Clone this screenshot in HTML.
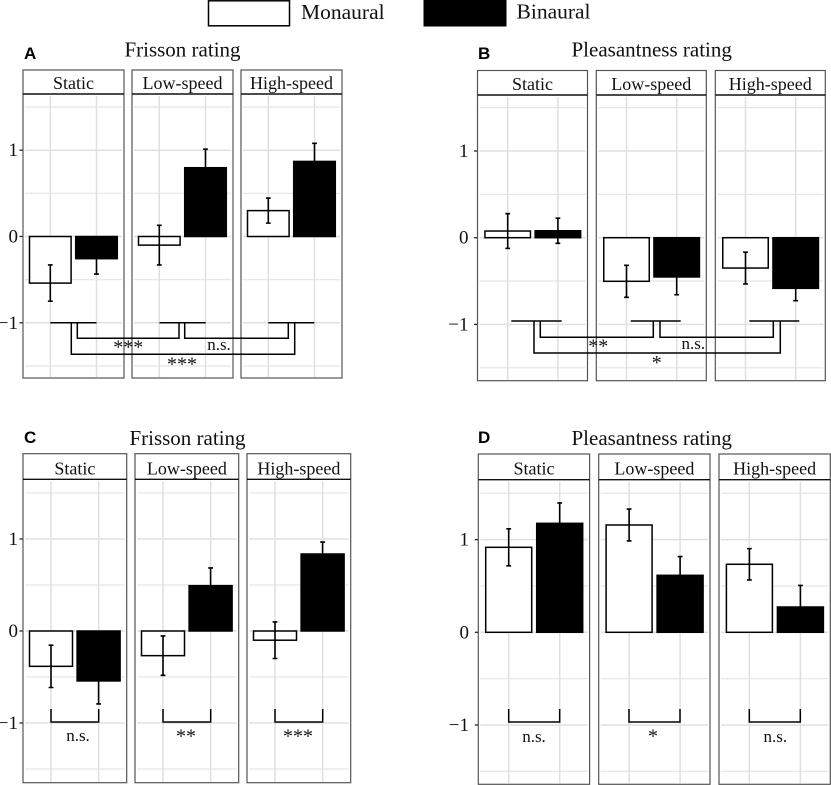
<!DOCTYPE html>
<html>
<head>
<meta charset="utf-8">
<title>Frisson and pleasantness ratings</title>
<style>
html,body{margin:0;padding:0;background:#fff;width:831px;height:785px;overflow:hidden}
svg{display:block}
text{font-family:"Liberation Serif",serif;fill:#111}
.lbl{font-family:"Liberation Sans",sans-serif;font-weight:bold;font-size:17px;fill:#000}
.title{font-size:21px;text-anchor:middle}
.strip{font-size:18px;text-anchor:middle}
.tick{font-size:19px;text-anchor:end}
.note{font-size:17px;text-anchor:middle}
.star{font-size:20px;text-anchor:middle}
.br{fill:none;stroke:#000;stroke-width:1.5}
</style>
</head>
<body>
<svg id="figure" width="831" height="785" viewBox="0 0 831 785" xmlns="http://www.w3.org/2000/svg">
  <g>
    <rect x="208.5" y="0.8" width="81" height="25" fill="#fff" stroke="#000" stroke-width="1.5"/>
    <text x="301" y="19" font-size="21.5">Monaural</text>
    <rect x="423.5" y="0" width="83" height="26.5" fill="#000"/>
    <text x="516.5" y="18.5" font-size="21.5">Binaural</text>
  </g>
  <text class="lbl" x="24" y="59">A</text>
  <text class="lbl" x="478" y="59">B</text>
  <text class="lbl" x="24" y="443">C</text>
  <text class="lbl" x="478" y="443">D</text>
  <text class="title" x="182.5" y="56.5">Frisson rating</text>
  <text class="title" x="651.7" y="56.5">Pleasantness rating</text>
  <text class="title" x="187.5" y="445">Frisson rating</text>
  <text class="title" x="651.7" y="445">Pleasantness rating</text>
  <g id="panels"></g>
  <g>
    <g>
      <path class="br" d="M50.3 322.7H96.5M159.5 322.7H205.7M268.3 322.7H314.3"/>
      <path class="br" d="M77.3 322.7V338.3H179V322.7"/>
      <path class="br" d="M184.7 322.7V338.3H288.3V322.7"/>
      <path class="br" d="M71.3 322.7V354.3H294.7V322.7"/>
      <text class="star" x="128.3" y="353.5">***</text>
      <text class="note" x="219" y="350">n.s.</text>
      <text class="star" x="182" y="370.5">***</text>
    </g>
    <g>
      <path class="br" d="M511.3 321H561.7M630.7 321H680.7M749.3 321H799.3"/>
      <path class="br" d="M540.3 321V337.3H653.3V321"/>
      <path class="br" d="M660 321V337.3H773.3V321"/>
      <path class="br" d="M534 321V353H780.3V321"/>
      <text class="star" x="598.3" y="352.5">**</text>
      <text class="note" x="693.3" y="349">n.s.</text>
      <text class="star" x="656.7" y="369">*</text>
    </g>
    <g>
      <path class="br" d="M51 709V722H98.7V709"/>
      <path class="br" d="M163 709V722H210.7V709"/>
      <path class="br" d="M275 709V722H322.7V709"/>
      <text class="note" x="78" y="741">n.s.</text>
      <text class="star" x="186" y="742.5">**</text>
      <text class="star" x="298" y="742.5">***</text>
    </g>
    <g>
      <path class="br" d="M508.7 709V722H559.7V709"/>
      <path class="br" d="M629 709V722H680V709"/>
      <path class="br" d="M749.3 709V722H800.3V709"/>
      <text class="note" x="534" y="742">n.s.</text>
      <text class="star" x="653" y="742.5">*</text>
      <text class="note" x="775.3" y="742">n.s.</text>
    </g>
  </g>
</svg>
<script>
// Chart data
const categories = ['Static', 'Low-speed', 'High-speed'];
const yTicks = [-1, 0, 1];
const yTickLabels = ['\u22121', '0', '1'];
const yMinor = [-1.5, -0.5, 0.5, 1.5];

const monoA = [-0.54, -0.10, 0.30];
const monoErrA = [0.21, 0.23, 0.145];
const binA = [-0.257, 0.797, 0.87];
const binErrA = [0.178, 0.215, 0.21];

const monoB = [0.077, -0.503, -0.35];
const monoErrB = [0.20, 0.185, 0.183];
const binB = [0.08, -0.453, -0.584];
const binErrB = [0.145, 0.205, 0.143];

const monoC = [-0.384, -0.268, -0.10];
const monoErrC = [0.23, 0.214, 0.199];
const binC = [-0.543, 0.493, 0.837];
const binErrC = [0.25, 0.192, 0.13];

const monoD = [0.917, 1.158, 0.734];
const monoErrD = [0.20, 0.172, 0.169];
const binD = [1.176, 0.615, 0.273];
const binErrD = [0.22, 0.202, 0.233];

// Layout of each panel (not data)
const layouts = [
  {id:'a', mono:monoA, monoErr:monoErrA, bin:binA, binErr:binErrA, lefts:[23,132,241], w:101, top:70, strip:94, bottom:378, y0:236.5, unit:86.3, tickEnd:18, step:46.2, off:27.3, bw:41.6},
  {id:'b', mono:monoB, monoErr:monoErrB, bin:binB, binErr:binErrB, lefts:[477.5,596.3,715.3], w:110, top:70.5, strip:95, bottom:380.7, y0:237.7, unit:86.7, tickEnd:468.5, step:50.2, off:30.2, bw:45.5},
  {id:'c', mono:monoC, monoErr:monoErrC, bin:binC, binErr:binErrC, lefts:[23,135,247], w:103.7, top:453.7, strip:479.3, bottom:782.7, y0:631, unit:92, tickEnd:18, step:47.6, off:28, bw:43},
  {id:'d', mono:monoD, monoErr:monoErrD, bin:binD, binErr:binErrD, lefts:[478.3,598.7,719], w:111.3, top:454, strip:479.7, bottom:784.3, y0:632.3, unit:92.67, tickEnd:469, step:51, off:30.4, bw:46}
];

const NS = 'http://www.w3.org/2000/svg';
function add(parent, tag, attrs, txt) {
  const el = document.createElementNS(NS, tag);
  for (const k in attrs) el.setAttribute(k, attrs[k]);
  if (txt !== undefined) el.textContent = txt;
  parent.appendChild(el);
  return el;
}

const root = document.getElementById('panels');
layouts.forEach(function (p) {
  const yScale = function (v) { return p.y0 - v * p.unit; };
  const xScale = function (facet, pos) { return p.lefts[facet] + p.off + pos * p.step; };
  const g = add(root, 'g', {});
  
  

  yTicks.forEach(function (t, i) {
    const label = add(g, 'text', {class:'tick', x:p.tickEnd, y:yScale(t) + 6}, yTickLabels[i]);
    
    
    const mark = add(g, 'line', {x1:p.lefts[0] - 3.5, x2:p.lefts[0], y1:yScale(t), y2:yScale(t), stroke:'#222', 'stroke-width':1.3});
    
    
  });

  categories.forEach(function (cat, f) {
    const L = p.lefts[f], R = L + p.w;
    const fg = add(g, 'g', {});
    
    

    yMinor.forEach(function (t) {
      const l = add(fg, 'line', {x1:L + 2, x2:R - 2, y1:yScale(t), y2:yScale(t), stroke:'#e8e8e8', 'stroke-width':1.3});
      
      
    });
    yTicks.forEach(function (t) {
      const l = add(fg, 'line', {x1:L + 2, x2:R - 2, y1:yScale(t), y2:yScale(t), stroke:'#e0e0e0', 'stroke-width':1.5});
      
      
    });
    [0, 1].forEach(function (pos) {
      const l = add(fg, 'line', {x1:xScale(f, pos), x2:xScale(f, pos), y1:p.strip + 2, y2:p.bottom - 1, stroke:'#e0e0e0', 'stroke-width':1.5});
      
      
    });

    const series = [
      {name:'monaural', vals:p.mono, errs:p.monoErr, fill:'#fff', pos:0},
      {name:'binaural', vals:p.bin, errs:p.binErr, fill:'#000', pos:1}
    ];
    series.forEach(function (s) {
      const v = s.vals[f], e = s.errs[f], cx = xScale(f, s.pos);
      const yTop = Math.min(yScale(v), yScale(0));
      const bar = add(fg, 'rect', {x:cx - p.bw / 2, y:yTop, width:p.bw, height:Math.abs(yScale(v) - yScale(0)), fill:s.fill, stroke:'#000', 'stroke-width':1.5});
      
      
      const err = add(fg, 'path', {d:'M' + (cx - 2.4) + ' ' + yScale(v + e) + 'H' + (cx + 2.4) + 'M' + cx + ' ' + yScale(v + e) + 'V' + yScale(v - e) + 'M' + (cx - 2.4) + ' ' + yScale(v - e) + 'H' + (cx + 2.4), fill:'none', stroke:'#000', 'stroke-width':1.6});
      
      
    });

    const border = add(fg, 'rect', {x:L, y:p.top, width:p.w, height:p.bottom - p.top, fill:'none', stroke:'#555', 'stroke-width':1.2});
    
    
    const stripLine = add(fg, 'line', {x1:L, x2:R, y1:p.strip, y2:p.strip, stroke:'#111', 'stroke-width':1.4});
    
    
    const stripText = add(fg, 'text', {class:'strip', x:(L + R) / 2, y:p.strip - 5}, cat);
    
    
  });
});
</script>
</body>
</html>
